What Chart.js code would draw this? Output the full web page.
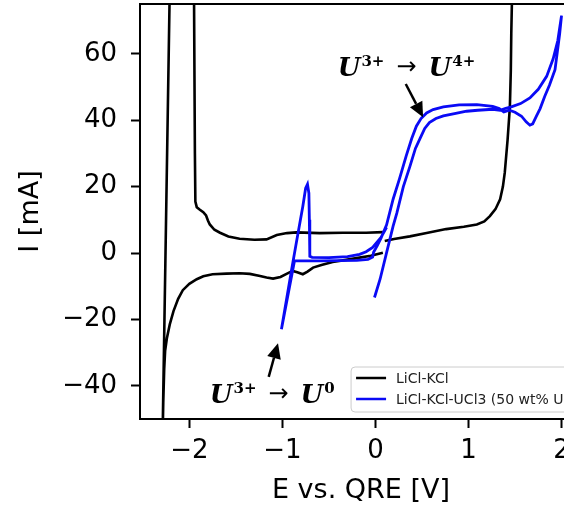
<!DOCTYPE html>
<html>
<head>
<meta charset="utf-8">
<script src="https://cdn.jsdelivr.net/npm/chart.js@4.4.1/dist/chart.umd.min.js"></script>
<style>
  html, body { margin: 0; padding: 0; overflow: hidden; background: #fff; }
  #grafico { display: block; }
</style>
</head>
<body>
<canvas id="grafico" width="600" height="507"></canvas>
<script>
// 1. Datos (E en V, I en mA)
const etiquetas = ['LiCl-KCl', 'LiCl-KCl-UCl3 (50 wt% U)'];

// LiCl-KCl (sal pura); null = corte de la línea
const salE = [0.08, -0.05, -0.17, -0.30, -0.46, -0.58, -0.67, -0.73, -0.78, -0.84, -0.89, -0.95, -1.02, -1.10, -1.17, -1.24,
  -1.35, -1.46, -1.60, -1.75, -1.85, -1.92, -2.00, -2.07, -2.12, -2.17, -2.21, -2.24, -2.26, -2.27, -2.28, -2.29,
  -2.21, -1.95, -1.94, -1.935, -1.92, -1.89, -1.85, -1.82, -1.80, -1.78, -1.73, -1.67, -1.58, -1.46, -1.30,
  -1.17, -1.06, -0.95, -0.85, -0.60, -0.35, -0.10, 0.08,
  0.09,
  0.10, 0.20, 0.37, 0.55, 0.76, 0.95, 1.09, 1.17, 1.23, 1.29, 1.34, 1.37, 1.39, 1.42, 1.445, 1.455, 1.46, 1.47];
const salI = [0.1, -0.8, -1.4, -2.0, -2.7, -3.6, -4.4, -5.6, -6.4, -5.8, -5.4, -6.2, -7.2, -7.7, -7.4, -6.9,
  -6.3, -6.1, -6.2, -6.4, -7.0, -7.9, -9.3, -11.2, -13.8, -17.5, -21.5, -25.5, -29.5, -35, -45, -60,
  80, 80, 30, 15.5, 13.8, 13.1, 12.3, 11.3, 9.8, 8.6, 7.0, 6.1, 5.0, 4.3, 4.0,
  4.1, 5.4, 6.0, 6.2, 6.0, 6.1, 6.1, 6.3,
  null,
  3.6, 4.2, 5.0, 6.0, 7.2, 7.9, 8.6, 9.5, 11.1, 13.2, 16.2, 20, 24.2, 34, 44, 55, 66, 80];

// LiCl-KCl-UCl3
const uranioE = [-0.01, 0.05, 0.12, 0.19, 0.23, 0.30, 0.37, 0.43, 0.48, 0.53, 0.58, 0.65, 0.73, 0.85, 0.98, 1.10,
  1.26, 1.34, 1.40, 1.46, 1.56, 1.66, 1.75, 1.84, 1.91, 1.96, 2.00,
  1.98, 1.93, 1.87, 1.82, 1.77, 1.73, 1.69, 1.66, 1.62, 1.57, 1.50, 1.44, 1.38, 1.33, 1.26, 1.09, 0.90, 0.73,
  0.62, 0.55, 0.49, 0.44, 0.39, 0.33, 0.26, 0.19, 0.12, 0.06, 0.02, -0.02, -0.03, -0.08, -0.20, -0.40, -0.60,
  -0.75, -0.87, -1.01, -0.90, -0.85, -0.78, -0.75, -0.73, -0.715, -0.71, -0.705, -0.68, -0.50, -0.30, -0.17,
  -0.10, -0.03, 0.06, 0.12];
const uranioI = [-13.4, -7.9, 0.1, 8.1, 12, 20, 26, 31.5, 34.5, 37.5, 39.3, 40.5, 41.3, 42.0, 42.7, 43.0,
  43.3, 43.0, 43.6, 44.0, 45.0, 46.7, 49.3, 53.2, 58.5, 64, 71.5,
  66, 55.2, 50.5, 47.2, 43.5, 41.2, 38.9, 38.5, 39.5, 41.2, 42.4, 43.0, 42.5, 43.5, 44.2, 44.7, 44.6, 44.0,
  43.2, 42.2, 40.5, 38.2, 34.5, 29.2, 22.5, 16.2, 8.5, 4.5, 2.2, 0.2, -1.2, -1.9, -2.2, -2.3, -2.4,
  -2.4, -2.4, -23, -4.9, 3.1, 14.1, 19.5, 20.7, 18, 10, -1.0, -1.3, -1.4, -1.1, -0.4,
  0.4, 1.7, 4.7, 7.7];

const ticksX = [-2, -1, 0, 1, 2];
const ticksY = [-40, -20, 0, 20, 40, 60];
const limitesX = [-2.53, 2.22];
const limitesY = [-50, 75];

// 2. Anotaciones (posición en unidades de los ejes)
const notas = [
  { especies: [['U', '3+'], ['U', '4+']], texto: [-0.405, 53.3], cola: [0.326, 50.9], punta: [0.512, 40.9] },
  { especies: [['U', '3+'], ['U', '0']], texto: [-1.78, -45.1], cola: [-1.147, -37.3], punta: [-1.047, -27.2] }
];

function puntos(xs, ys) {
  return xs.map((x, i) => ({ x: x, y: ys[i] }));
}

function formatear(v) {
  return v < 0 ? '\u2212' + Math.abs(v) : String(v);
}

function escribirReaccion(ctx, x, base, especies) {
  ctx.fillStyle = '#000';
  ctx.textAlign = 'left';
  especies.forEach((esp, i) => {
    if (i > 0) {
      x += 12;
      ctx.font = '24px "DejaVu Sans"';
      ctx.textBaseline = 'middle';
      ctx.fillText('\u2192', x, base - 8);
      x += ctx.measureText('\u2192').width + 12;
    }
    ctx.textBaseline = 'alphabetic';
    ctx.font = 'italic bold 26px "DejaVu Serif"';
    ctx.fillText(esp[0], x, base);
    x += ctx.measureText(esp[0]).width + 1;
    ctx.font = 'bold 15px "DejaVu Serif"';
    ctx.fillText(esp[1], x, base - 10);
    x += ctx.measureText(esp[1]).width;
  });
}

function flecha(ctx, x0, y0, x1, y1) {
  const ang = Math.atan2(y1 - y0, x1 - x0);
  const largo = 15, ancho = 7;
  const bx = x1 - largo * Math.cos(ang), by = y1 - largo * Math.sin(ang);
  ctx.strokeStyle = '#000';
  ctx.lineWidth = 2.5;
  ctx.beginPath();
  ctx.moveTo(x0, y0);
  ctx.lineTo(bx, by);
  ctx.stroke();
  ctx.fillStyle = '#000';
  ctx.beginPath();
  ctx.moveTo(x1, y1);
  ctx.lineTo(bx + ancho * Math.sin(ang), by - ancho * Math.cos(ang));
  ctx.lineTo(bx - ancho * Math.sin(ang), by + ancho * Math.cos(ang));
  ctx.closePath();
  ctx.fill();
}

// 3. Plugin: marco superior/derecho, anotaciones y leyenda dentro del área
const extras = {
  id: 'extras',
  afterDatasetsDraw(chart) {
    const { ctx, chartArea: a, scales: { x, y } } = chart;
    ctx.save();

    notas.forEach(n => {
      flecha(ctx, x.getPixelForValue(n.cola[0]), y.getPixelForValue(n.cola[1]),
        x.getPixelForValue(n.punta[0]), y.getPixelForValue(n.punta[1]));
      escribirReaccion(ctx, x.getPixelForValue(n.texto[0]), y.getPixelForValue(n.texto[1]), n.especies);
    });

    // leyenda (esquina inferior derecha)
    ctx.font = '14px "DejaVu Sans"';
    const anchoTexto = Math.max(...chart.data.datasets.map(d => ctx.measureText(d.label).width));
    const w = 45 + anchoTexto + 6, h = 45;
    const lx = a.right - 7 - w, ly = a.bottom - 7 - h;
    ctx.beginPath();
    if (ctx.roundRect) ctx.roundRect(lx, ly, w, h, 4); else ctx.rect(lx, ly, w, h);
    ctx.fillStyle = 'rgba(255,255,255,0.8)';
    ctx.fill();
    ctx.strokeStyle = '#cccccc';
    ctx.lineWidth = 1;
    ctx.stroke();
    chart.data.datasets.forEach((d, i) => {
      const yy = ly + 11 + i * 21;
      ctx.strokeStyle = d.borderColor;
      ctx.lineWidth = 2.5;
      ctx.beginPath();
      ctx.moveTo(lx + 5, yy);
      ctx.lineTo(lx + 35, yy);
      ctx.stroke();
      ctx.fillStyle = '#222';
      ctx.textBaseline = 'middle';
      ctx.textAlign = 'left';
      ctx.fillText(d.label, lx + 45, yy + 1);
    });

    // marco
    ctx.strokeStyle = '#000';
    ctx.lineWidth = 2;
    ctx.strokeRect(a.left, a.top, a.right - a.left, a.bottom - a.top);
    ctx.restore();
  }
};

// 4. Gráfica
const fuenteTicks = { family: 'DejaVu Sans', size: 26 };
const fuenteTitulo = { family: 'DejaVu Sans', size: 27 };

new Chart(document.getElementById('grafico'), {
  type: 'scatter',
  data: {
    datasets: [
      { label: etiquetas[0], data: puntos(salE, salI), borderColor: '#000000', borderWidth: 2.6,
        showLine: true, pointRadius: 0, tension: 0, spanGaps: false, order: 1 },
      { label: etiquetas[1], data: puntos(uranioE, uranioI), borderColor: '#0a0af5', borderWidth: 2.8,
        showLine: true, pointRadius: 0, tension: 0, spanGaps: false, order: 0 }
    ]
  },
  options: {
    responsive: false,
    animation: false,
    devicePixelRatio: 1,
    events: [],
    layout: { padding: { top: 4, right: 18, left: 0, bottom: 0 } },
    plugins: { legend: { display: false }, tooltip: { enabled: false } },
    scales: {
      x: {
        type: 'linear', min: limitesX[0], max: limitesX[1],
        afterBuildTicks: s => { s.ticks = ticksX.map(v => ({ value: v })); },
        afterFit: s => { s.height = 88; s.paddingLeft = 0; s.paddingRight = 0; },
        ticks: { callback: formatear, font: fuenteTicks, color: '#000', padding: 8, maxRotation: 0, autoSkip: false },
        grid: { drawOnChartArea: false, tickLength: 9, tickWidth: 2, tickColor: '#000', color: '#000' },
        border: { display: true, color: '#000', width: 2 },
        title: { display: true, text: 'E vs. QRE [V]', font: fuenteTitulo, color: '#000', padding: { top: 0, bottom: 0 } }
      },
      y: {
        type: 'linear', min: limitesY[0], max: limitesY[1],
        afterBuildTicks: s => { s.ticks = ticksY.map(v => ({ value: v })); },
        afterFit: s => { s.width = 140; s.paddingTop = 0; s.paddingBottom = 0; },
        ticks: { callback: formatear, font: fuenteTicks, color: '#000', padding: 14, autoSkip: false },
        grid: { drawOnChartArea: false, tickLength: 9, tickWidth: 2, tickColor: '#000', color: '#000' },
        border: { display: true, color: '#000', width: 2 },
        title: { display: true, text: 'I [mA]', font: fuenteTitulo, color: '#000', padding: { top: 15, bottom: 0 } }
      }
    }
  },
  plugins: [extras]
});
</script>
</body>
</html>
